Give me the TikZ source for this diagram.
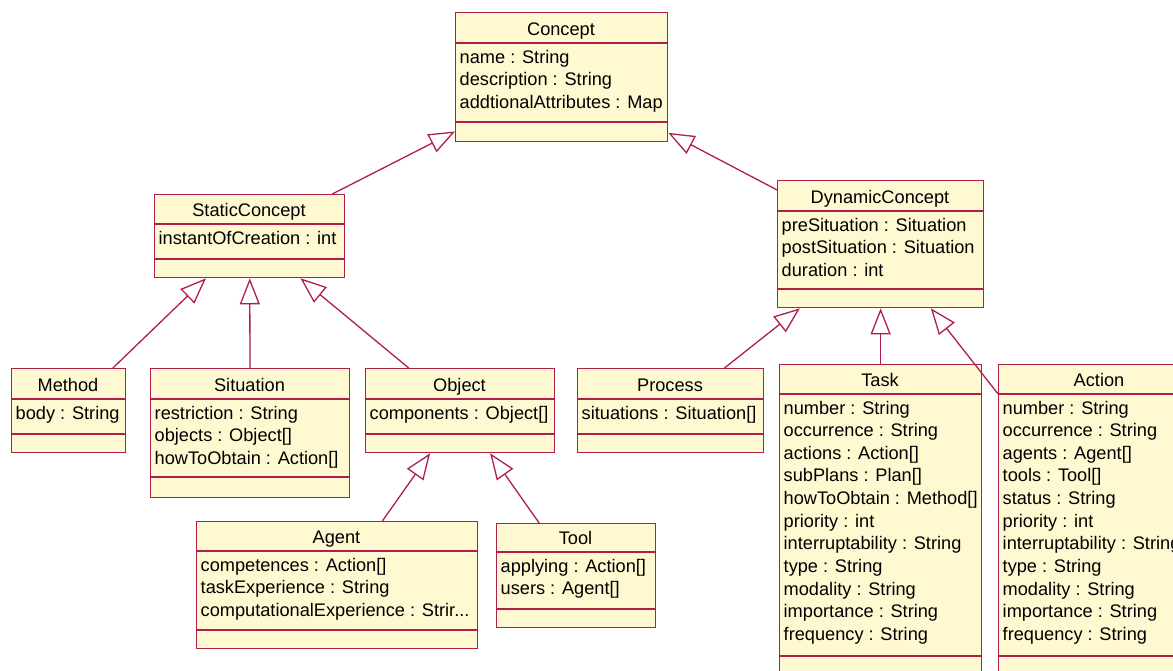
\documentclass[tikz,border=0pt]{standalone}
\usepackage{fontspec}
\setmainfont{Liberation Sans}
\usetikzlibrary{arrows.meta}
\definecolor{umlline}{RGB}{176,30,75}
\definecolor{umlfill}{RGB}{255,249,209}
\tikzset{
  cls/.style={draw=umlline, fill=umlfill, line width=1.3pt, rectangle, inner sep=0pt, anchor=north west},
  sepline/.style={draw=umlline, line width=1.3pt},
  ctitle/.style={anchor=base, inner sep=0pt, font=\fontsize{18.2}{22.65}\selectfont},
  cattr/.style={anchor=base west, inner sep=0pt, font=\fontsize{18.2}{22.65}\selectfont},
  gen/.style={draw=umlline, line width=1.3pt, -{Triangle[length=26pt,width=20pt,fill=white]}},
}
% #1 name, #2 left, #3 top, #4 right, #5 divider 1, #6 divider 2, #7 bottom, #8 title, #9 attributes
\newcommand{\umlclass}[9]{%
  \node[cls, minimum width={(#4-#2)*1pt}, minimum height={(#7-#3)*1pt}] (#1) at (#2,#3) {};
  \draw[sepline] (#1.west |- 0,#5) -- (#1.east |- 0,#5);
  \draw[sepline] (#1.west |- 0,#6) -- (#1.east |- 0,#6);
  \node[ctitle] (#1-title) at ({(#2+#4)/2}, #5-7.5) {#8};
  \node[cattr] (#1-attrs) at (#2+4.5, #5+20) {\renewcommand{\arraystretch}{1}\begin{tabular}[t]{@{}l@{}}#9\end{tabular}};
}
\begin{document}
\begin{tikzpicture}[x=1pt, y=-1pt]
\useasboundingbox (0,0) rectangle (1173,670);
\fill[white] (0,0) rectangle (1173,670);
\clip (0,0) rectangle (1173,670);

\umlclass{concept}{455}{12}{667}{43}{122}{141}{Concept}{name : String\\description : String\\addtionalAttributes : Map}
\umlclass{static}{154}{194}{344}{224}{259}{277}{StaticConcept}{instantOfCreation : int}
\umlclass{dynamic}{777}{180}{983}{211}{289}{307}{DynamicConcept}{preSituation : Situation\\postSituation : Situation\\duration : int}
\umlclass{method}{11}{368}{125}{399}{434}{452}{Method}{body : String}
\umlclass{situation}{150}{368}{349}{399}{477}{497}{Situation}{restriction : String\\objects : Object[]\\howToObtain : Action[]}
\umlclass{object}{365}{368}{554}{399}{434}{452}{Object}{components : Object[]}
\umlclass{process}{577}{368}{763}{399}{434}{452}{Process}{situations : Situation[]}
\umlclass{agent}{196}{521}{477}{551}{630}{648}{Agent}{competences : Action[]\\taskExperience : String\\computationalExperience : Strir...}
\umlclass{tool}{496}{523}{655}{552}{609}{627}{Tool}{applying : Action[]\\users : Agent[]}
\umlclass{task}{779}{364}{981}{394}{656}{681}{Task}{number : String\\occurrence : String\\actions : Action[]\\subPlans : Plan[]\\howToObtain : Method[]\\priority : int\\interruptability : String\\type : String\\modality : String\\importance : String\\frequency : String}
\umlclass{action}{998}{364}{1200}{394}{656}{681}{Action}{number : String\\occurrence : String\\agents : Agent[]\\tools : Tool[]\\status : String\\priority : int\\interruptability : String\\type : String\\modality : String\\importance : String\\frequency : String}

\draw[gen] (static) -- (concept);
\draw[gen] (dynamic) -- (concept);
\draw[gen] (method) -- (static);
\draw[gen] (situation) -- (static);
\draw[gen] (object) -- (static);
\draw[gen] (agent) -- (object);
\draw[gen] (tool) -- (object);
\draw[gen] (process) -- (dynamic);
\draw[gen] (task) -- (dynamic);
\draw[gen] (action) -- (dynamic);
\end{tikzpicture}
\end{document}
